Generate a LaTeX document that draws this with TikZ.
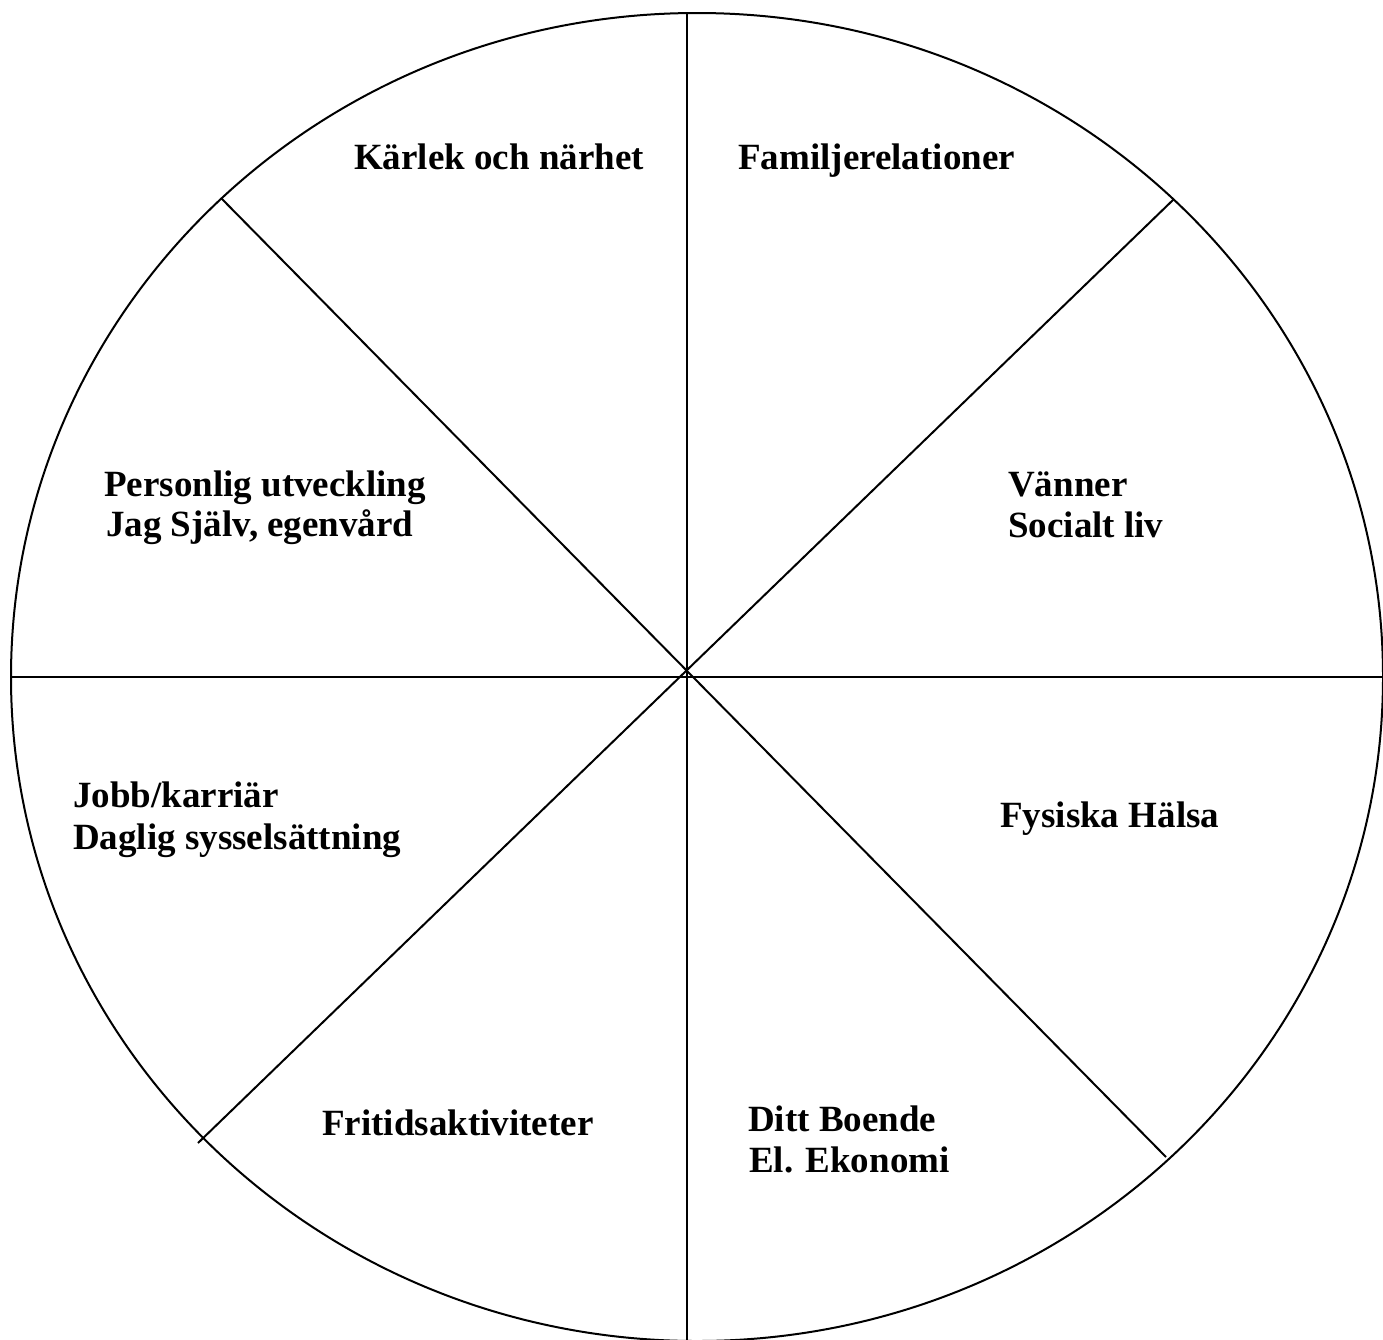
\documentclass[tikz,border=0pt]{standalone}
\usepackage{fontspec}
\setmainfont{Liberation Serif}
\begin{document}
\begin{tikzpicture}[x=1pt,y=-1pt,
  wheel/.style={line width=2pt, black},
  lbl/.style={anchor=base west, inner sep=0pt, font=\fontsize{37}{41}\selectfont\bfseries}]
\useasboundingbox (0,0) rectangle (1383,1339);
% outer ellipse
\draw[wheel] (697,677) ellipse [x radius=686, y radius=664];
% spokes
\coordinate (top) at (687,13);
\coordinate (bot) at (687,1345);
\coordinate (lft) at (11,677);
\coordinate (rgt) at (1390,677);
\coordinate (tl) at (221,198);
\coordinate (br) at (1166,1157);
\coordinate (tr) at (1174,199);
\coordinate (bl) at (198,1143);
\draw[wheel] (top) -- (bot);
\draw[wheel] (lft) -- (rgt);
\draw[wheel] (tl) -- (br);
\draw[wheel] (tr) -- (bl);
% labels
\node[lbl] (k) at (354,169) {Kärlek och närhet};
\node[lbl] (f) at (738,169) {Familjerelationer};
\node[lbl] (p1) at (104,496) {Personlig utveckling};
\node[lbl] (p2) at (106,536) {Jag Själv, egenvård};
\node[lbl] (v1) at (1008,496) {Vänner};
\node[lbl] (v2) at (1008,537) {Socialt liv};
\node[lbl] (j1) at (73,807) {Jobb/karriär};
\node[lbl] (j2) at (73,849) {Daglig sysselsättning};
\node[lbl] (h) at (1000,827) {Fysiska Hälsa};
\node[lbl] (fr) at (322,1135) {Fritidsaktiviteter};
\node[lbl] (d1) at (748,1131) {Ditt Boende};
\node[lbl] (d2) at (749,1172) {El. Ekonomi};
\end{tikzpicture}
\end{document}
